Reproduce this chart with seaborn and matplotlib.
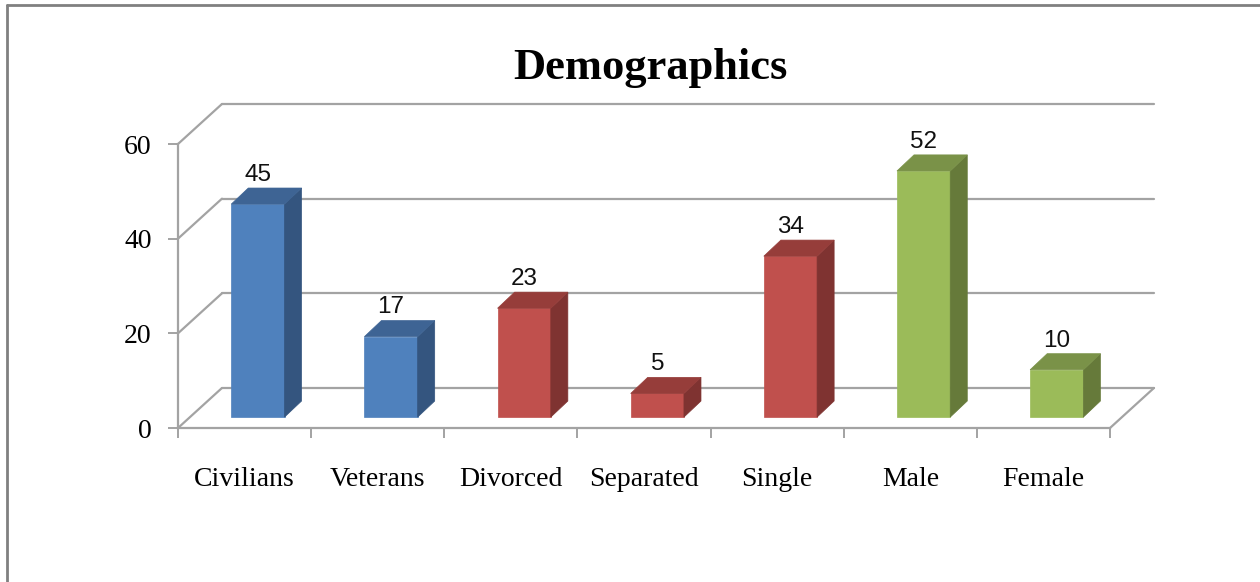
import seaborn as sns
import matplotlib.pyplot as plt
from matplotlib.patches import Polygon
from matplotlib.lines import Line2D
import pandas as pd

# chart data
categories = ["Civilians", "Veterans", "Divorced", "Separated", "Single", "Male", "Female"]
values = [45, 17, 23, 5, 34, 52, 10]
groups = ["status", "status", "marital", "marital", "marital", "gender", "gender"]
y_ticks = [0, 20, 40, 60]

# colours for each group: front face, side face, top face
front_colors = {"status": "#4F81BD", "marital": "#C0504D", "gender": "#9BBB59"}
side_colors = {"status": "#34557F", "marital": "#7F3331", "gender": "#667A3A"}
top_colors = {"status": "#3E6494", "marital": "#963D3A", "gender": "#7A9248"}

df = pd.DataFrame({"category": categories, "value": values, "group": groups})

sns.set_style("white")
plt.rcParams['font.family'] = ['Liberation Serif', 'DejaVu Serif']
plt.rcParams['text.color'] = 'black'
plt.rcParams['xtick.labelcolor'] = 'black'
plt.rcParams['ytick.labelcolor'] = 'black'

fig = plt.figure(figsize=(12.6, 5.82), dpi=100)
W, H = 1260, 582
ax = fig.add_axes([178 / W, (H - 428) / H, (1110 - 178) / W, (428 - 144) / H])

# draw the front faces of the bars with seaborn
palette = {c: front_colors[g] for c, g in zip(categories, groups)}
sns.barplot(data=df, x="category", y="value", hue="category", palette=palette,
            width=0.4, saturation=1, legend=False, ax=ax, zorder=3)

ax.set_xlim(-0.5, len(categories) - 0.5)
ax.set_ylim(0, 60)

grid_color = "#a3a3a3"
# depth of the chart box (in data units)
wall_dx, wall_dy = 0.33, 8.45
# where the bars sit in depth, and bar depth
bar_dx, bar_dy = 0.1, 2.3
depth_dx, depth_dy = 0.128, 3.4

# back wall gridlines and left wall diagonals
for v in y_ticks:
    ax.plot([-0.5, -0.5 + wall_dx], [v, v + wall_dy], color=grid_color, lw=1.6,
            clip_on=False, zorder=1)
    ax.plot([-0.5 + wall_dx, len(categories) - 0.5 + wall_dx], [v + wall_dy, v + wall_dy],
            color=grid_color, lw=1.6, clip_on=False, zorder=1)
# right edge of floor
ax.plot([len(categories) - 0.5, len(categories) - 0.5 + wall_dx], [0, wall_dy],
        color=grid_color, lw=1.6, clip_on=False, zorder=1)

# 3d faces and value labels
for p in ax.patches:
    idx = int(round(p.get_x() + p.get_width() / 2))
    g = groups[idx]
    p.set_x(p.get_x() + bar_dx)
    p.set_y(bar_dy)
    p.set_edgecolor(front_colors[g])
    p.set_linewidth(0.5)
    x0 = p.get_x()
    x1 = x0 + p.get_width()
    y0 = bar_dy
    y1 = y0 + p.get_height()
    side = Polygon([(x1, y0), (x1 + depth_dx, y0 + depth_dy), (x1 + depth_dx, y1 + depth_dy), (x1, y1)],
                   closed=True, facecolor=side_colors[g], edgecolor=side_colors[g], lw=0.5, zorder=3)
    top = Polygon([(x0, y1), (x0 + depth_dx, y1 + depth_dy), (x1 + depth_dx, y1 + depth_dy), (x1, y1)],
                  closed=True, facecolor=top_colors[g], edgecolor=top_colors[g], lw=0.5, zorder=3)
    ax.add_patch(side)
    ax.add_patch(top)
    ax.text((x0 + x1) / 2, y1 + depth_dy + 1.5, str(values[idx]), ha="center", va="baseline",
            fontsize=17.5, family=["Liberation Sans", "DejaVu Sans"], color="#111111", zorder=4)

# axes styling
for s in ["top", "right"]:
    ax.spines[s].set_visible(False)
for s in ["left", "bottom"]:
    ax.spines[s].set_color(grid_color)
    ax.spines[s].set_linewidth(1.6)

ax.set_yticks(y_ticks)
ax.set_yticklabels([str(v) for v in y_ticks], fontsize=20)
ax.tick_params(axis="y", length=7, width=1.4, color=grid_color, pad=12, direction="out", left=True)

ax.set_xticks([i - 0.5 for i in range(len(categories) + 1)])
ax.set_xticklabels([])
ax.set_xticks(range(len(categories)), minor=True)
ax.set_xticklabels(categories, minor=True, fontsize=20)
ax.tick_params(axis="x", which="major", length=7, width=1.4, color=grid_color, direction="out", bottom=True)
ax.tick_params(axis="x", which="minor", length=0, pad=28)
ax.set_xlabel("")
ax.set_ylabel("")
ax.grid(False)
ax.set_facecolor("none")

# title
fig.text(650 / W, 1 - 79 / H, "Demographics", ha="center", va="baseline",
         fontsize=32, fontweight="bold", color="black")

# chart frame (top and left edges visible)
fig.add_artist(Line2D([7 / W, 1], [1 - 5 / H, 1 - 5 / H], color="#808080", lw=2, transform=fig.transFigure))
fig.add_artist(Line2D([7 / W, 7 / W], [0, 1 - 5 / H], color="#808080", lw=2, transform=fig.transFigure))

plt.savefig("out.png", dpi=100)
